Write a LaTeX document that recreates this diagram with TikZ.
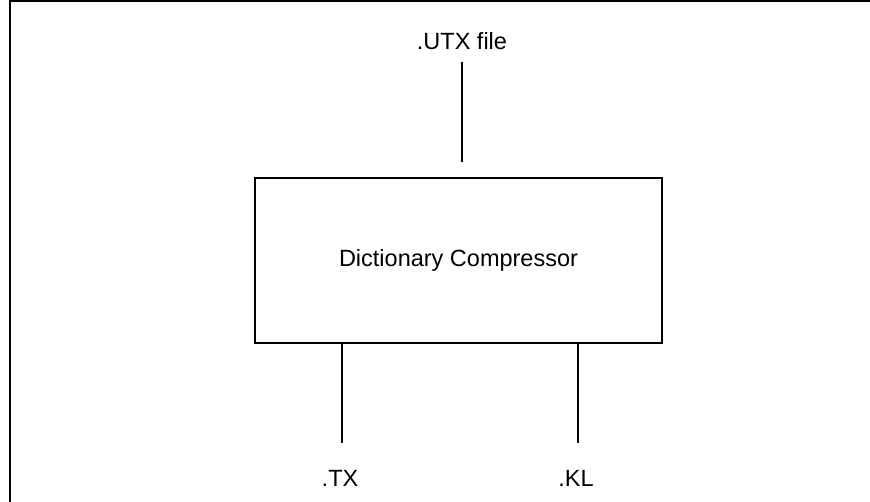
\documentclass[tikz,border=0pt]{standalone}
\usepackage{fontspec}
\setmainfont{Liberation Sans}
\begin{document}
\begin{tikzpicture}[x=1pt,y=-1pt,
  lbl/.style={font=\fontsize{23.5}{27}\selectfont, inner sep=0pt},
  wire/.style={line width=2pt},
  boxst/.style={draw, line width=2pt, minimum width=407pt, minimum height=165pt, inner sep=0pt, font=\fontsize{23.5}{27}\selectfont}]
\useasboundingbox (0,0) rectangle (870,502);
\begin{scope}
\clip (0,0) rectangle (870,502);
\draw[line width=2pt] (10,1.5) rectangle (880,512);
\end{scope}
\node[boxst] (comp) at (458.5,260.5) {Dictionary Compressor};
\node[lbl] (utx) at (462,41) {.UTX file};
\node[lbl] (tx) at (340,478) {.TX};
\node[lbl] (kl) at (576,478) {.KL};
\coordinate (utxtop) at (462,62);
\coordinate (utxbot) at (462,162);
\coordinate (txend) at (342,443);
\coordinate (klend) at (578,443);
\draw[wire] (utxtop) -- (utxbot);
\draw[wire] (comp.south -| txend) -- (txend);
\draw[wire] (comp.south -| klend) -- (klend);
\end{tikzpicture}
\end{document}
